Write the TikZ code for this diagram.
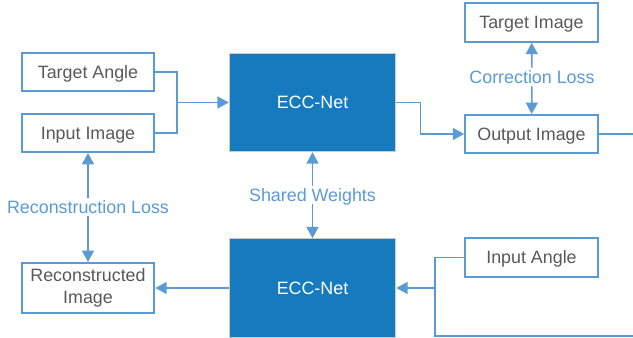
\documentclass[tikz,border=0pt]{standalone}
\usepackage{fontspec}
\setmainfont{Liberation Sans}
\usetikzlibrary{arrows.meta}
\definecolor{lineblue}{RGB}{91,155,213}
\definecolor{eccblue}{RGB}{21,122,190}
\definecolor{txtgray}{RGB}{89,89,89}
\definecolor{eccedge}{RGB}{200,205,210}
\begin{document}
\begin{tikzpicture}[x=0.75pt,y=-0.75pt,
  font=\fontsize{13.4}{15}\selectfont,
  whitebox/.style={draw=lineblue,line width=1.5pt,fill=white,text=txtgray,inner sep=0pt,minimum width=99.5pt,align=center},
  onel/.style={text depth=0pt},
  eccbox/.style={draw=eccedge,line width=0.6pt,fill=eccblue,text=white,inner sep=0pt,minimum width=125pt,minimum height=74pt},
  lossl/.style={text=lineblue,inner sep=2pt,fill=white,text depth=0pt},
  conn/.style={draw=lineblue,line width=1.1pt},
  arr/.style={conn,-{Triangle[length=8.5pt,width=9pt]}}
]
\useasboundingbox (0,0) rectangle (633,338);
\node[whitebox,onel,minimum height=28.5pt] (ta) at (88,72) {Target Angle};
\node[whitebox,onel,minimum height=28.5pt] (ii) at (88,133) {Input Image};
\node[eccbox] (e1) at (312.5,102.5) {ECC-Net};
\node[whitebox,onel,minimum height=28.5pt] (oi) at (531.5,134) {Output Image};
\node[whitebox,onel,minimum height=29pt] (ti) at (531.5,22.5) {Target Image};
\node[eccbox] (e2) at (312.5,288) {ECC-Net};
\node[whitebox,minimum height=37.5pt,text width=99.5pt,font=\fontsize{13.4}{16}\selectfont] (ri) at (88,288) {Reconstructed\\Image};
\node[whitebox,onel,minimum height=29pt] (ia) at (531.5,257.5) {Input Angle};
\node[lossl] (cl) at (532,77) {Correction Loss};
\node[lossl] (sw) at (312.5,195) {Shared Weights};
\node[lossl] (rl) at (88,207) {Reconstruction Loss};
\coordinate (j1) at (177,102.5);
\coordinate (j2) at (435,288);
\coordinate (r1) at (633,134);
\coordinate (r2) at (633,336);
\draw[conn] (ta.east) -| (j1);
\draw[conn] (ii.east) -| (j1);
\draw[arr] (j1) -- (e1.west);
\draw[arr] (e1.east) -- ++(24,0) |- (oi.west);
\draw[conn] (oi.east) -- (r1);
\draw[arr] (cl) -- (ti);
\draw[arr] (cl) -- (oi);
\draw[arr] (sw) -- (e1);
\draw[arr] (sw) -- (e2);
\draw[arr] (rl) -- (ii);
\draw[arr] (rl) -- (ri);
\draw[arr] (e2.west) -- (ri.east);
\draw[conn] (ia.west) -| (j2) |- (r2);
\draw[arr] (j2) -- (e2.east);
\end{tikzpicture}
\end{document}
